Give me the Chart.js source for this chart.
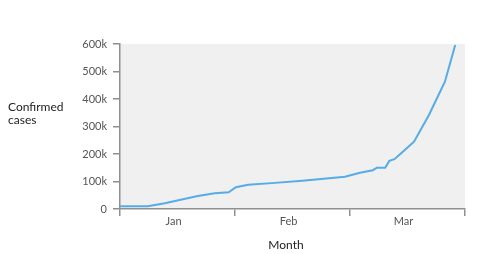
<!DOCTYPE html>
<html>
<head>
<meta charset="utf-8">
<script src="https://cdn.jsdelivr.net/npm/chart.js@4"></script>
<style>
  html, body { margin: 0; padding: 0; background: #ffffff; }
  #wrap { position: relative; width: 480px; height: 254px; }
  #c { position: absolute; left: 0; top: 0; }
  .lbl { position: absolute; font-family: Lato, "Noto Sans", sans-serif; color: #222; font-size: 12px; line-height: 13px; white-space: nowrap; }
</style>
</head>
<body>
<div id="wrap">
  <canvas id="c" width="480" height="254"></canvas>
  <div class="lbl" id="ytitle" style="left:8px; top:100px;">Confirmed<br>cases</div>
  <div class="lbl" id="xtitle" style="left:0; width:572px; text-align:center; top:238px;">Month</div>
</div>
<script>
// Days since first record (x) and confirmed cases (y)
const days  = [0, 5.4, 8.7, 15.1, 18.4, 21.1, 22.5, 24.9, 30.1, 35.4, 43.7, 46.6, 49.1, 49.9, 51.5, 52.3, 53.3, 54.6, 57.1, 60.0, 63.1, 65.1];
const cases = [10000, 10000, 21000, 47000, 57000, 61000, 79000, 88000, 95000, 103000, 117000, 132000, 141000, 150000, 150000, 175000, 181000, 203000, 245000, 342000, 463000, 596000];
// Axis categories and tick labels
const months = ['Jan', 'Feb', 'Mar'];
const yTickValues = [0, 100000, 200000, 300000, 400000, 500000, 600000];
const yTickLabels = ['0', '100k', '200k', '300k', '400k', '500k', '600k'];

const points = days.map((d, i) => ({ x: d, y: cases[i] }));

const areaBg = {
  id: 'areaBg',
  beforeDraw(chart) {
    const { ctx, chartArea: a } = chart;
    ctx.save();
    ctx.fillStyle = '#f0f0f0';
    ctx.fillRect(a.left, a.top, a.right - a.left, a.bottom - a.top);
    ctx.restore();
  }
};

const axisGrey = '#8f8f8f';
const tickFont = { family: 'Lato, "Noto Sans", sans-serif', size: 11 };

new Chart(document.getElementById('c'), {
  type: 'line',
  data: {
    datasets: [{
      data: points,
      xAxisID: 'x',
      yAxisID: 'y',
      borderColor: '#55ace6',
      borderWidth: 2,
      pointRadius: 0,
      tension: 0,
      fill: false
    }]
  },
  options: {
    responsive: false,
    animation: false,
    events: [],
    layout: { padding: { left: 0, right: 15, top: 44, bottom: 0 } },
    plugins: { legend: { display: false }, tooltip: { enabled: false } },
    scales: {
      x: {
        type: 'linear',
        display: false,
        min: 0,
        max: 67
      },
      month: {
        type: 'category',
        position: 'bottom',
        labels: months,
        offset: true,
        grid: {
          display: true,
          offset: true,
          drawOnChartArea: false,
          drawTicks: true,
          tickLength: 7,
          tickColor: axisGrey,
          lineWidth: 1.5
        },
        border: { display: true, color: axisGrey, width: 1.5 },
        ticks: { color: '#555', font: tickFont, padding: -1, labelOffset: -4, maxRotation: 0 },
        afterFit(scale) { scale.height = 45; }
      },
      y: {
        type: 'linear',
        position: 'left',
        min: 0,
        max: 600000,
        afterBuildTicks(scale) { scale.ticks = yTickValues.map(v => ({ value: v })); },
        grid: {
          display: true,
          drawOnChartArea: false,
          drawTicks: true,
          tickLength: 7,
          tickColor: axisGrey,
          lineWidth: 1.5
        },
        border: { display: true, color: axisGrey, width: 1.5 },
        ticks: {
          color: '#555',
          font: tickFont,
          padding: 6,
          callback(value) {
            const i = yTickValues.indexOf(value);
            return i >= 0 ? yTickLabels[i] : '';
          }
        },
        afterFit(scale) { scale.width = 120; }
      }
    }
  },
  plugins: [areaBg]
});
</script>
</body>
</html>
